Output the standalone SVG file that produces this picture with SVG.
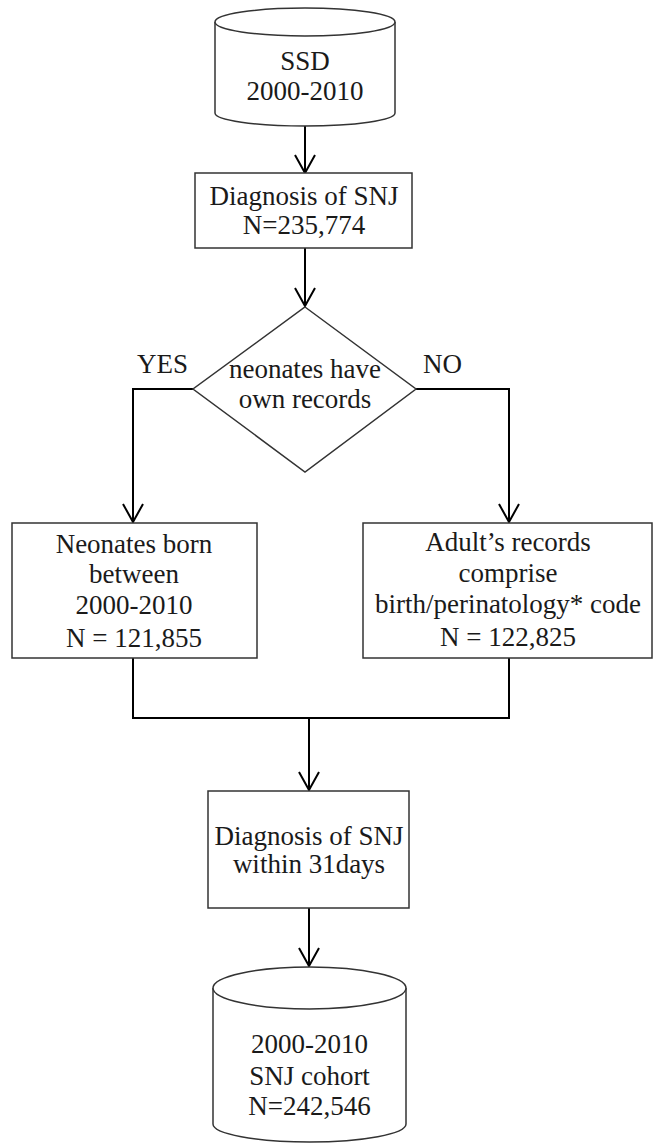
<svg xmlns="http://www.w3.org/2000/svg" width="654" height="1146" viewBox="0 0 654 1146">
<defs>
<style>
.shape{fill:#fff;stroke:#333;stroke-width:1.5}
.conn{fill:none;stroke:#000;stroke-width:2}
text{font-family:"Liberation Serif","Times New Roman",serif;font-size:27px;fill:#1a1a1a;text-anchor:middle}
.lbl{text-anchor:start}
</style>
<marker id="arr" viewBox="-20 -12 22 24" refX="0" refY="0" markerWidth="22" markerHeight="24" markerUnits="userSpaceOnUse" orient="auto">
<path d="M-18,-10 L0,0 L-18,10" fill="none" stroke="#000" stroke-width="2"/>
</marker>
</defs>
<rect width="654" height="1146" fill="#fff"/>
<g id="connectors">
<path class="conn" d="M305,126 L305,173" marker-end="url(#arr)"/>
<path class="conn" d="M305,248 L305,306" marker-end="url(#arr)"/>
<path class="conn" d="M193,389 L133,389 L133,522" marker-end="url(#arr)"/>
<path class="conn" d="M416,389 L509,389 L509,522" marker-end="url(#arr)"/>
<path class="conn" d="M133,658 L133,718 L509,718 L509,658"/>
<path class="conn" d="M309,718 L309,790" marker-end="url(#arr)"/>
<path class="conn" d="M309,908 L309,966" marker-end="url(#arr)"/>
</g>
<g id="ssd">
<path class="shape" d="M215,22 L215,113 A90,13 0 0 0 395,113 L395,22"/>
<ellipse class="shape" cx="305" cy="22" rx="90" ry="14"/>
<text x="305" y="70">SSD</text>
<text x="305" y="100">2000-2010</text>
</g>
<g id="diag1">
<rect class="shape" x="195" y="173" width="217" height="75"/>
<text x="304" y="205">Diagnosis of SNJ</text>
<text x="304" y="234">N=235,774</text>
</g>
<g id="decision">
<path class="shape" d="M305,307 L416,389 L305,472 L193,389 Z"/>
<text x="305" y="378">neonates have</text>
<text x="305" y="408">own records</text>
</g>
<g id="yes-label"><text class="lbl" x="137" y="373">YES</text></g>
<g id="no-label"><text class="lbl" x="423" y="373">NO</text></g>
<g id="neonates">
<rect class="shape" x="12" y="523" width="245" height="135"/>
<text x="134" y="553">Neonates born</text>
<text x="134" y="583">between</text>
<text x="134" y="614">2000-2010</text>
<text x="134" y="647">N = 121,855</text>
</g>
<g id="adults">
<rect class="shape" x="363" y="523" width="289" height="135"/>
<text x="508" y="551">Adult’s records</text>
<text x="508" y="582">comprise</text>
<text x="508" y="613">birth/perinatology* code</text>
<text x="508" y="646">N = 122,825</text>
</g>
<g id="diag2">
<rect class="shape" x="208" y="791" width="201" height="117"/>
<text x="309" y="845">Diagnosis of SNJ</text>
<text x="309" y="873">within 31days</text>
</g>
<g id="cohort">
<path class="shape" d="M213,988 L213,1124 A96.5,18 0 0 0 406,1124 L406,988"/>
<ellipse class="shape" cx="309.5" cy="988" rx="96.5" ry="21"/>
<text x="309.5" y="1053">2000-2010</text>
<text x="309.5" y="1085">SNJ cohort</text>
<text x="309.5" y="1115">N=242,546</text>
</g>
</svg>
